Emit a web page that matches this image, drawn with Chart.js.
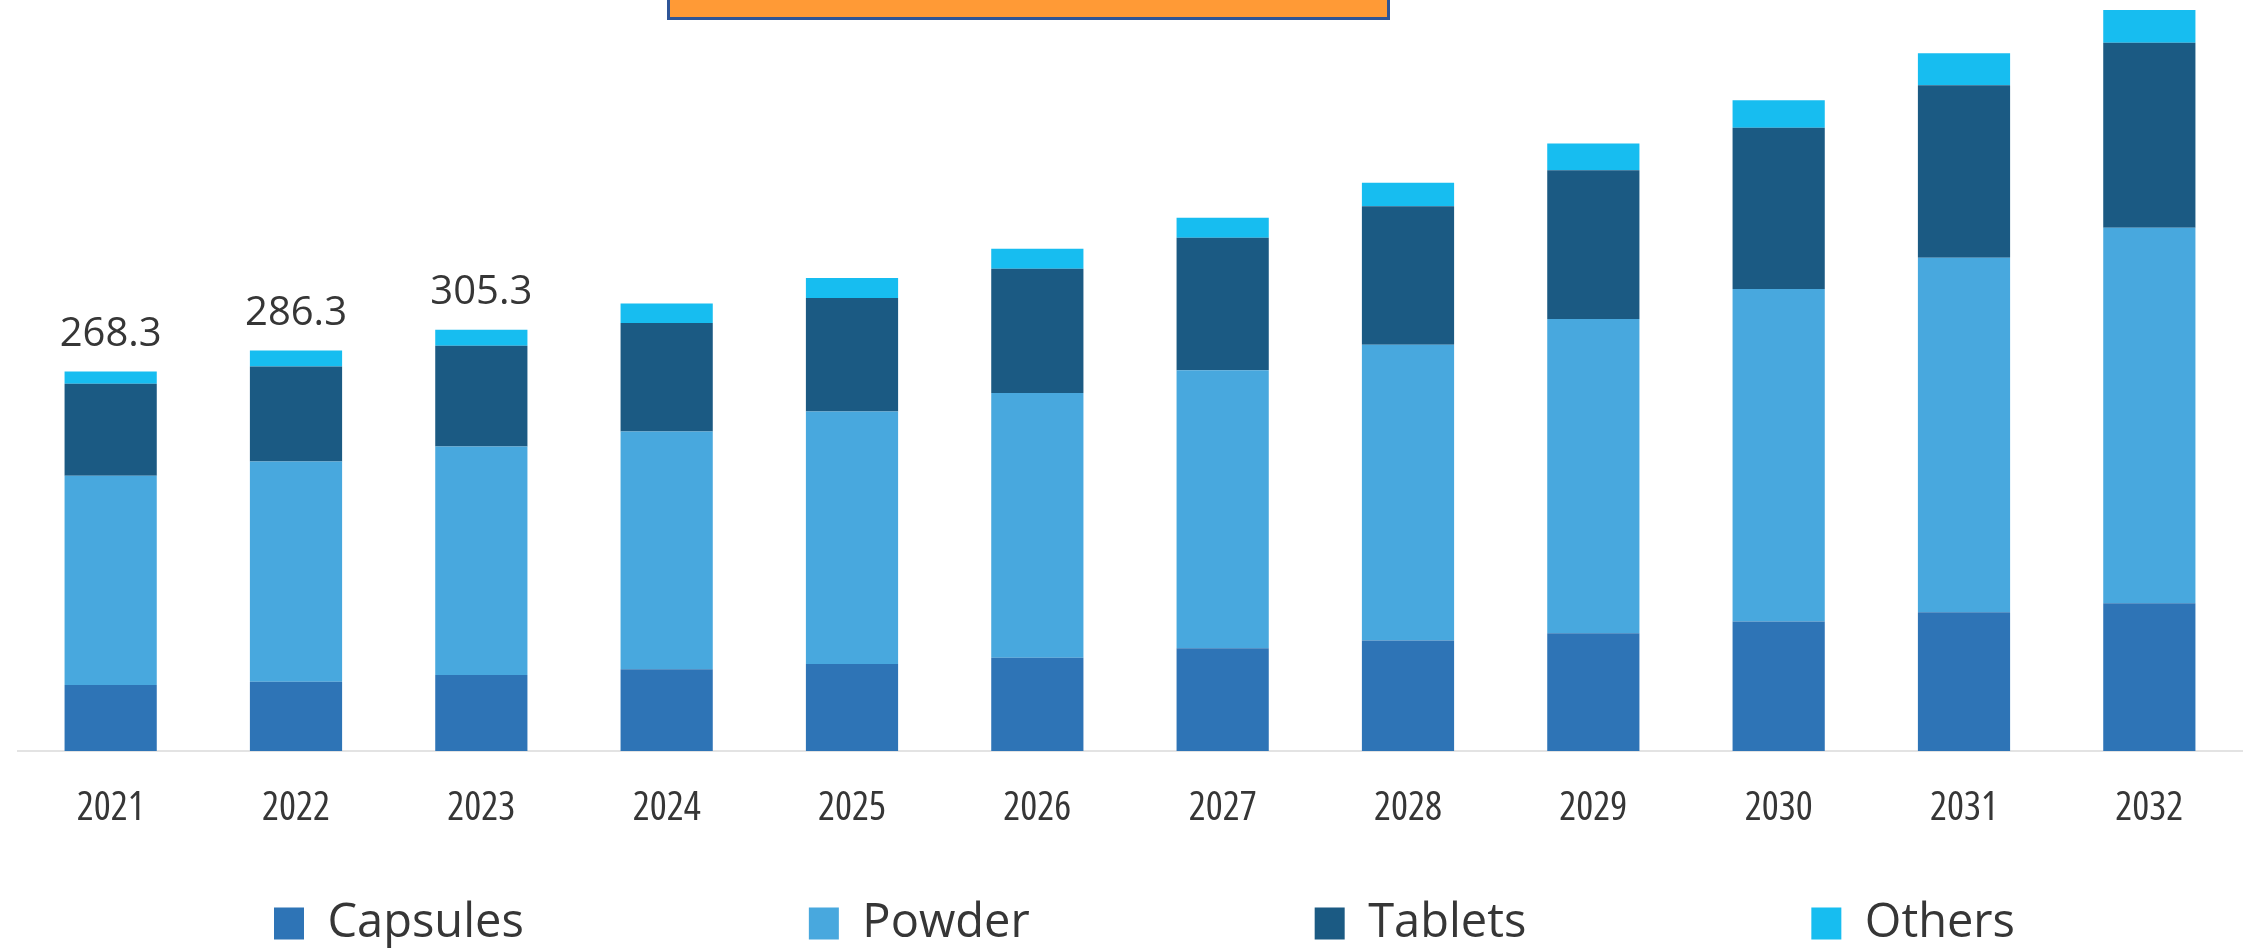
<!DOCTYPE html>
<html>
<head>
<meta charset="utf-8">
<script src="https://cdn.jsdelivr.net/npm/chart.js@4/dist/chart.umd.min.js"></script>
<style>
  html, body { margin: 0; padding: 0; background: #ffffff; overflow: hidden; }
  #wrap { position: relative; width: 2257px; height: 950px; }
  #banner { position: absolute; left: 667px; top: -10px; width: 723px; height: 30px;
            box-sizing: border-box; background: #FF9A36; border: 3px solid #2F5597; z-index: 2; }
</style>
</head>
<body>
<div id="wrap">
  <div id="banner"></div>
  <canvas id="chart"></canvas>
</div>
<script>
// ---- data ----
const years = ['2021','2022','2023','2024','2025','2026','2027','2028','2029','2030','2031','2032'];
const capsules = [47.1, 49.5, 54.3, 58.4, 62.1, 66.6, 73.4, 78.8, 84.1, 92.4, 99.1, 105.5];
const powder   = [149.3, 157.1, 163.1, 169.7, 180.2, 188.9, 198.3, 211.2, 224.3, 237.4, 252.9, 267.9];
const tablets  = [65.7, 67.9, 71.9, 77.4, 81.0, 88.6, 94.6, 98.8, 106.1, 115.0, 123.1, 132.1];
const others   = [8.8, 11.4, 11.4, 13.8, 14.3, 14.3, 14.3, 16.7, 19.1, 19.7, 22.9, 23.3];
const totalLabels = ['268.3', '286.3', '305.3', null, null, null, null, null, null, null, null, null];
const seriesNames = ['Capsules', 'Powder', 'Tablets', 'Others'];
const seriesColors = ['#2E74B6', '#48A8DE', '#1B5A83', '#17BDF0'];

const TEXT_COLOR = '#363636';
const LEGEND_PAD = 285;

// labels above the first stacks
const totalLabelPlugin = {
  id: 'totalLabels',
  afterDatasetsDraw(chart) {
    const ctx = chart.ctx;
    const yScale = chart.scales.y;
    const lastMeta = chart.getDatasetMeta(chart.data.datasets.length - 1);
    ctx.save();
    ctx.font = '40px "Open Sans"';
    ctx.fillStyle = TEXT_COLOR;
    ctx.textAlign = 'center';
    ctx.textBaseline = 'middle';
    totalLabels.forEach((txt, i) => {
      if (!txt) return;
      const sum = chart.data.datasets.reduce((s, d) => s + d.data[i], 0);
      const x = lastMeta.data[i].x;
      const y = yScale.getPixelForValue(sum) - 37;
      ctx.fillText(txt, x, y);
    });
    ctx.restore();
  }
};

// widen the spacing of the library legend and place it at the bottom row
const legendPlacePlugin = {
  id: 'legendPlace',
  afterLayout(chart) {
    const lg = chart.legend;
    if (!lg) return;
    lg.maxWidth = 4000;
    lg.fit();
    lg.left = 274 - LEGEND_PAD;
    lg.right = lg.left + lg.width;
    lg.top = 900 - LEGEND_PAD;
    lg.bottom = chart.height;
    lg.height = lg.bottom - lg.top;
  }
};

new Chart(document.getElementById('chart'), {
  type: 'bar',
  data: {
    labels: years,
    datasets: [
      { label: seriesNames[0], data: capsules, backgroundColor: seriesColors[0] },
      { label: seriesNames[1], data: powder,   backgroundColor: seriesColors[1] },
      { label: seriesNames[2], data: tablets,  backgroundColor: seriesColors[2] },
      { label: seriesNames[3], data: others,   backgroundColor: seriesColors[3] }
    ]
  },
  options: {
    responsive: true,
    maintainAspectRatio: false,
    animation: false,
    devicePixelRatio: 1,
    layout: { padding: { left: 18, right: 15, top: 0, bottom: 0 } },
    datasets: { bar: { barPercentage: 0.5, categoryPercentage: 0.995, borderWidth: 0 } },
    scales: {
      x: {
        stacked: true,
        grid: { display: false, drawTicks: false },
        border: { display: true, color: '#E3E3E3', width: 2 },
        ticks: {
          color: TEXT_COLOR,
          padding: 34,
          font: { family: '"Open Sans"', weight: 'condensed', size: 40 }
        }
      },
      y: {
        stacked: true,
        display: false,
        min: 0,
        max: 536
      }
    },
    plugins: {
      tooltip: { enabled: false },
      legend: {
        display: true,
        position: 'bottom',
        align: 'start',
        maxHeight: 83,
        labels: {
          color: TEXT_COLOR,
          boxWidth: 30,
          boxHeight: 32,
          padding: LEGEND_PAD,
          font: { family: '"Open Sans"', size: 47 }
        }
      }
    }
  },
  plugins: [totalLabelPlugin, legendPlacePlugin]
});
</script>
</body>
</html>
